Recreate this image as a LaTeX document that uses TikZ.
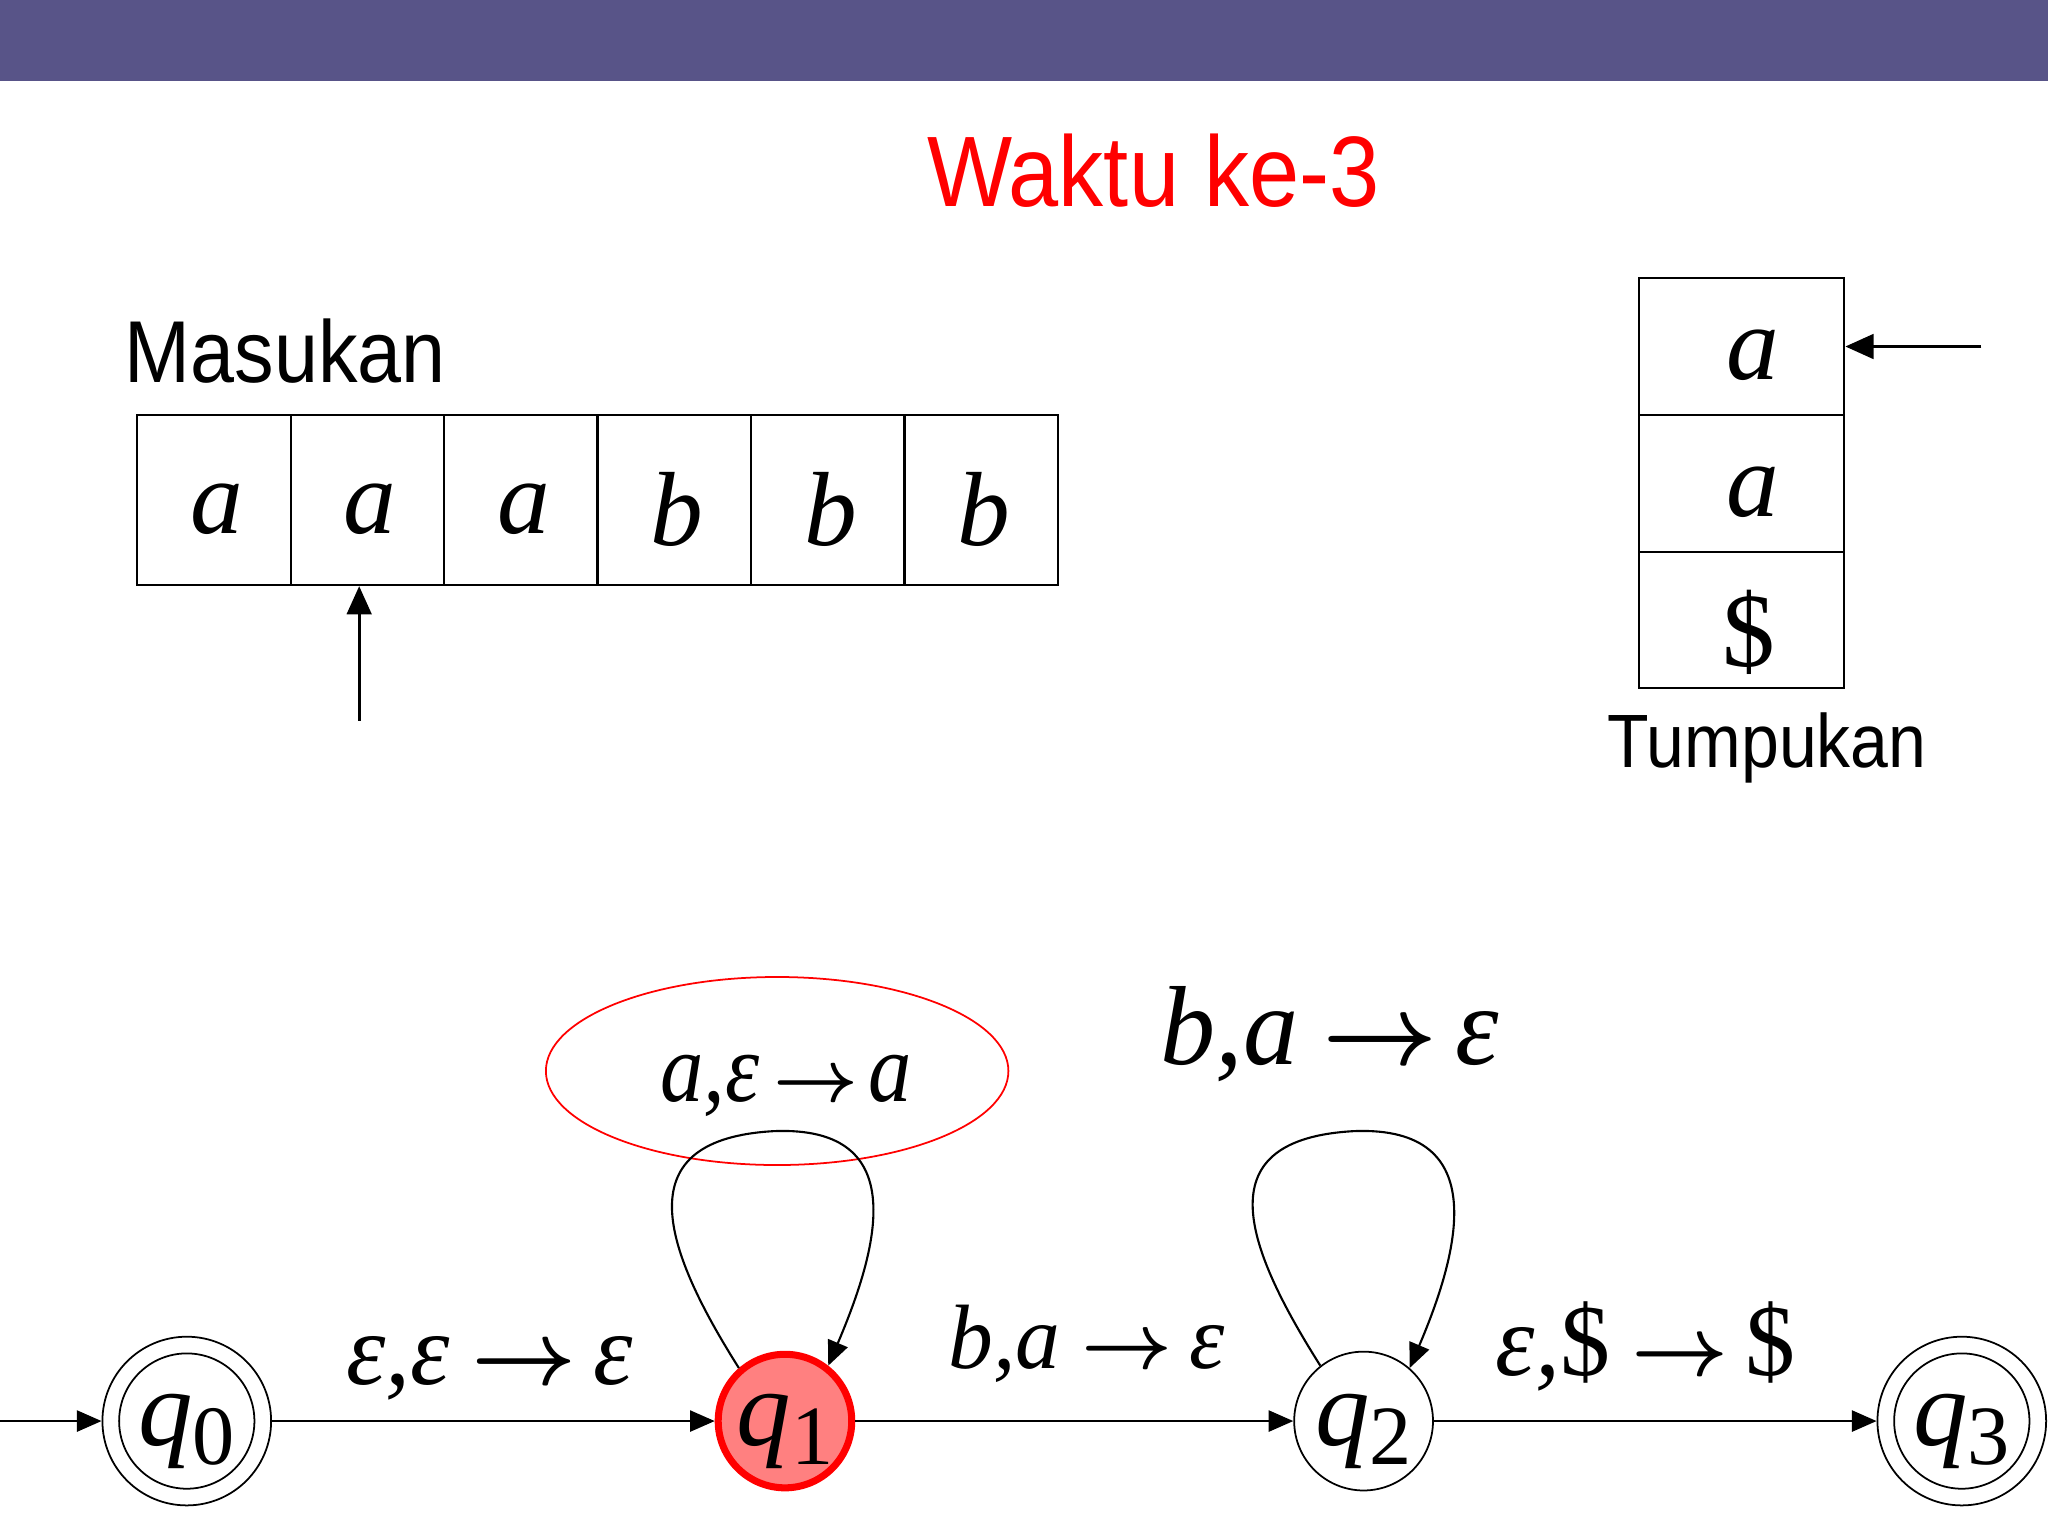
\documentclass[tikz,border=0pt]{standalone}
\usepackage{fontspec}
\usepackage{graphicx}
\setmainfont{Liberation Serif}
\newfontfamily\sansf{Liberation Sans}[FakeStretch=0.9]
\newfontfamily\lblf{Liberation Serif}[FakeStretch=0.98]
\newfontfamily\lblnf{Liberation Serif}[FakeStretch=0.88]
\usetikzlibrary{arrows.meta,shapes.geometric,calc}
\definecolor{barblue}{RGB}{88,84,136}
\definecolor{statered}{RGB}{255,128,128}
\newcommand{\fs}[1]{\fontsize{#1}{#1}\selectfont}
\newcommand{\qlab}[1]{\smash{\raisebox{-7pt}{\fs{31}\itshape q\raisebox{-5.5pt}{\upshape\fs{24}#1}}}}
\newcommand{\arr}[1]{\scalebox{#1}{\normalsize\boldmath$\rightarrow$}}
\begin{document}
\begin{tikzpicture}[x=0.01306cm,y=-0.01306cm,
  tri/.style={-{Triangle[length=7pt,width=6pt]}},
  bigtri/.style={-{Triangle[length=8pt,width=7pt]}},
  cellbox/.style={draw,line width=0.6pt,minimum width=43.7pt,minimum height=48.3pt,inner sep=0pt},
  stackbox/.style={draw,line width=0.6pt,minimum width=58.4pt,minimum height=38.9pt,inner sep=0pt},
  sym/.style={font=\fs{30}\itshape,inner sep=0pt},
  statec/.style={circle,draw,line width=0.5pt,minimum size=39.5pt,inner sep=0pt},
  lbl/.style={inner sep=0pt,anchor=base},
  trans/.style={line width=0.6pt,tri}
]
\useasboundingbox (0,0) rectangle (1568,1176);
\fill[barblue] (0,0) rectangle (1568,62);

\node[lbl,font=\sansf\fs{28.5},text=red] (title) at (883,158) {Waktu ke-3};
\node[lbl,anchor=base west,font=\sansf\fs{25}] (masukan) at (95,293) {Masukan};

% tape
\foreach \i/\c in {0/a,1/a,2/a,3/b,4/b,5/b}{
  \node[cellbox] (c\i) at ({163.75+117.5*\i},383) {};
  \node[sym] (t\i) at ({165.75+117.5*\i},390) {\c};
}
\coordinate (pin) at (275,552);
\draw[line width=0.8pt,bigtri] (pin) -- (pin |- c1.south);

% stack
\node[stackbox] (s0) at (1333.5,265.3) {};
\node[stackbox] (s1) at (1333.5,370) {};
\node[stackbox] (s2) at (1333.5,474.7) {};
\node[sym] (sa0) at (1342,272) {a};
\node[sym] (sa1) at (1342,377) {a};
\node[sym,font=\fs{30}\upshape] (sa2) at (1339,484) {\$};
\coordinate (sin) at (1517,265.3);
\draw[line width=0.8pt,bigtri] (sin) -- (s0.east);
\node[lbl,font=\sansf\fs{21.5}] (tump) at (1353,588) {Tumpukan};

% states
\node[statec,minimum size=48pt] (q0) at (143,1088) {};
\node[statec,minimum size=38.5pt] (q0i) at (q0) {\qlab{0}};
\node[statec,fill=statered,draw=red,line width=2pt,minimum size=38pt] (q1) at (601,1088) {\qlab{1}};
\node[statec] (q2) at (1044,1088) {\qlab{2}};
\node[statec,minimum size=48pt] (q3) at (1502,1088) {};
\node[statec,minimum size=38.5pt] (q3i) at (q3) {\qlab{3}};

\coordinate (start) at (0,1088);
\draw[trans] (start) -- (q0.west);
\draw[trans] (q0) -- (q1);
\draw[trans] (q1) -- (q2);
\draw[trans] (q2) -- (q3);

% highlight ellipse
\node[ellipse,draw=red,line width=0.5pt,minimum width=131.6pt,minimum height=53.5pt] (hl) at (595,820) {};

% loops
\coordinate (t1) at (593,866);
\coordinate (t2) at (1037,866);
\draw[trans] (q1.131) .. controls +(-60,-95) and +(-113,6) .. (t1)
  .. controls +(107,-4) and +(37,-87) .. (q1.52);
\draw[trans] (q2.128) .. controls +(-60,-95) and +(-113,6) .. (t2)
  .. controls +(107,-4) and +(37,-87) .. (q2.49);

% labels
\node[lbl,font=\lblf\fs{29}\itshape] (l01) at (375,1060) {ε,ε\hspace{6pt}\arr{2.6}\hspace{5pt}ε};
\node[lbl,font=\lblf\fs{26}\itshape] (l12) at (832,1048) {b,a\hspace{6pt}\arr{2.25}\hspace{5pt}ε};
\node[lbl,font=\lblf\fs{29}\itshape] (l23) at (1260,1053) {ε,{\upshape\$}\hspace{6pt}\arr{2.4}\hspace{5pt}{\upshape\$}};
\node[lbl,font=\lblf\fs{32}\itshape] (l22) at (1018,815) {b,a\hspace{7pt}\arr{2.85}\hspace{5pt}ε};
\node[lbl,font=\lblnf\fs{28}\itshape] (l11) at (602,843) {a,ε\hspace{4pt}\arr{2.1}\hspace{3pt}a};
\end{tikzpicture}
\end{document}
